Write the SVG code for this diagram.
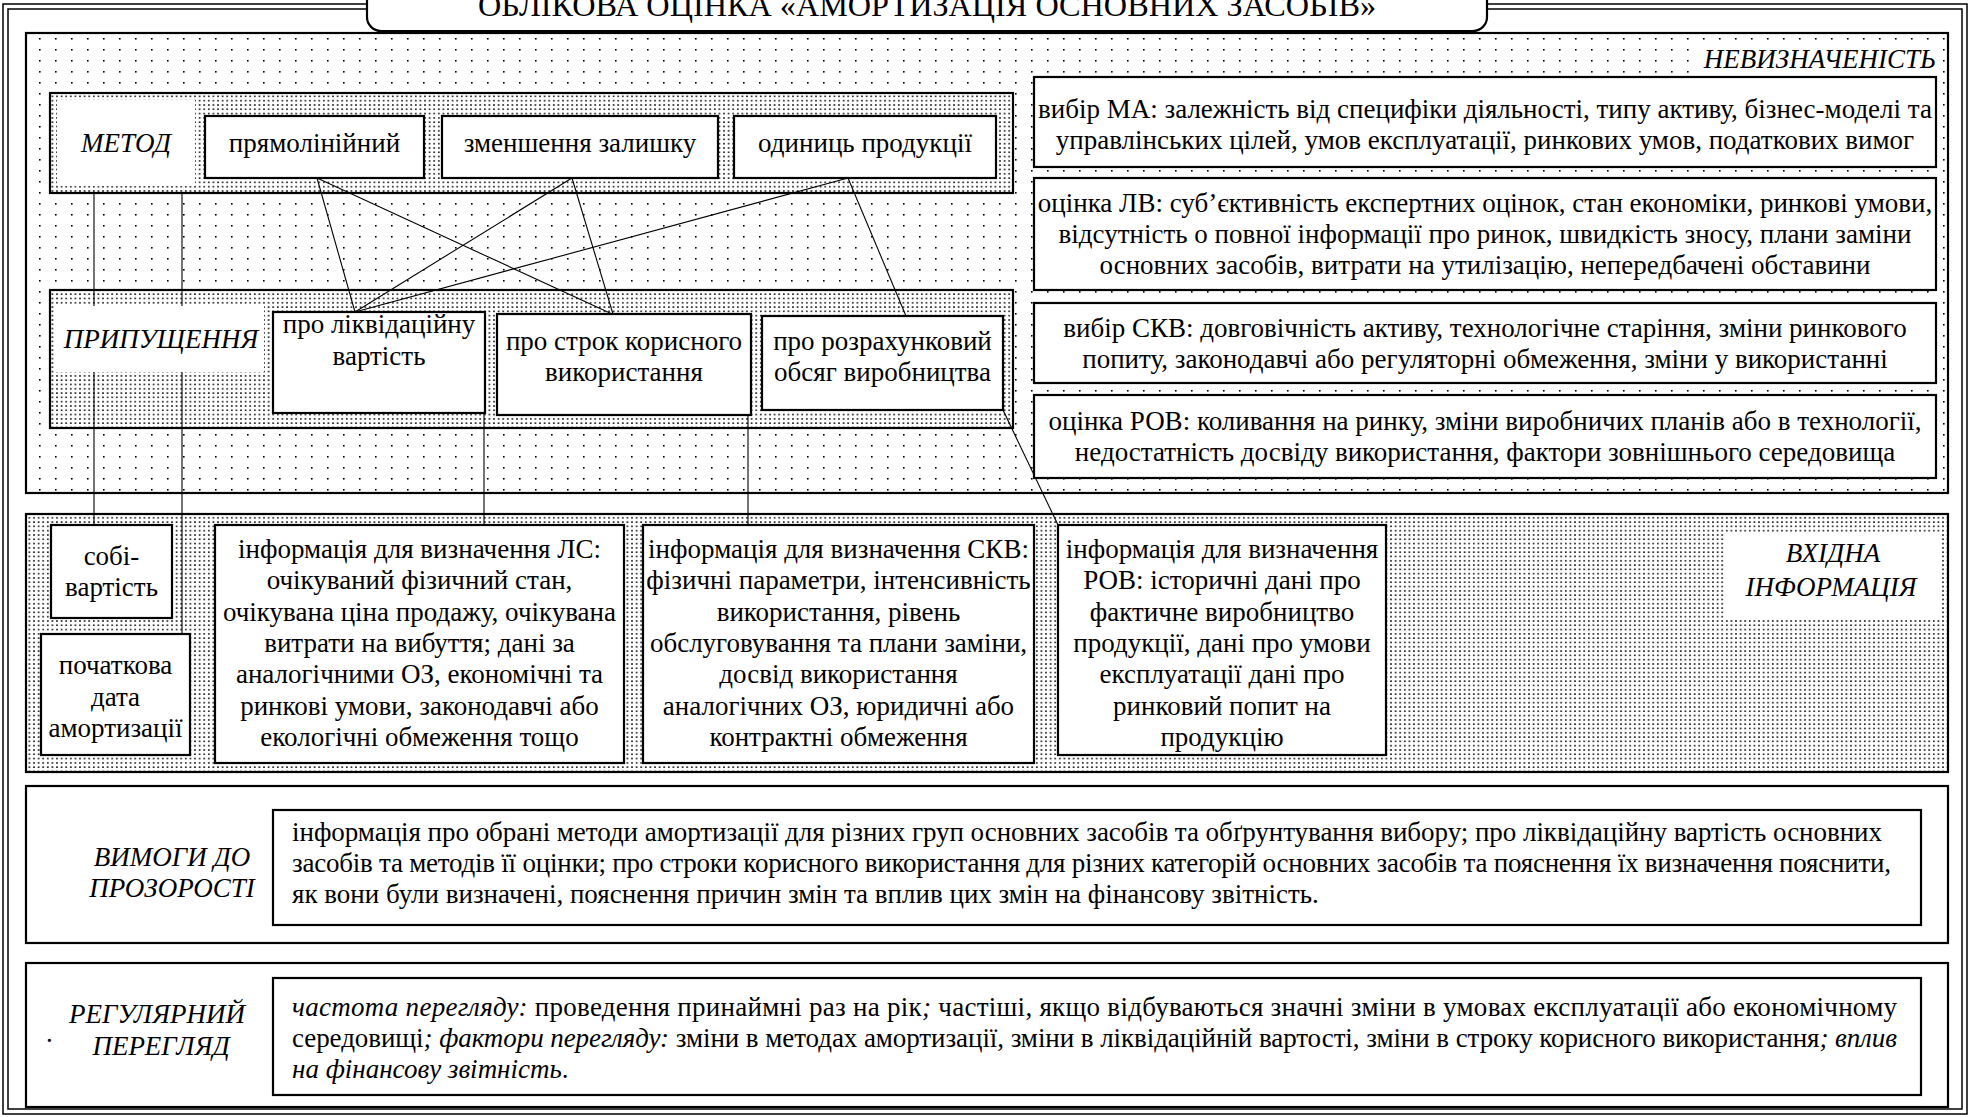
<svg xmlns="http://www.w3.org/2000/svg" width="1971" height="1117" viewBox="0 0 1971 1117">
<defs>
  <pattern id="dotsSparse" width="16" height="11" patternUnits="userSpaceOnUse">
    <rect width="16" height="11" fill="#fff"/>
    <rect x="7" y="5" width="1.6" height="1.6" fill="#000"/>
  </pattern>
  <pattern id="dotsDense" width="4.6" height="4.3" patternUnits="userSpaceOnUse">
    <rect width="4.6" height="4.3" fill="#fff"/>
    <rect x="1" y="1" width="1.6" height="1.6" fill="#111"/>
  </pattern>
  <clipPath id="clipRov"><rect x="1058" y="525" width="328" height="229"/></clipPath>
</defs>
<style>
  text { font-family: "Liberation Serif", "Times New Roman", serif; font-size: 27px; fill: #000; }
  .c { text-anchor: middle; }
  .it { font-style: italic; }
  .box { fill: #fff; stroke: #000; stroke-width: 2.2; }
  .cont { stroke: #000; stroke-width: 2.2; }
  .sparse { fill: url(#dotsSparse); }
  .dense { fill: url(#dotsDense); }
  .bg { fill: #fff; }
  .link { stroke: #000; stroke-width: 1.1; fill: none; }
  .frame { fill: none; stroke: #000; stroke-width: 1.5; }
  .title { font-size: 32px; }
</style>

<rect width="1971" height="1117" fill="#fff"/>

<!-- double outer frame -->
<g id="frame">
  <rect class="frame" x="3" y="4" width="1964" height="1110"/>
  <rect class="frame" x="8" y="9" width="1954" height="1100"/>
</g>

<!-- containers -->
<g id="uncertainty">
  <rect class="cont sparse" x="26" y="33" width="1922" height="460"/>
  <rect class="bg" x="1698" y="46" width="242" height="30"/>
  <text class="it" x="1936" y="68" text-anchor="end">НЕВИЗНАЧЕНІСТЬ</text>
</g>

<!-- heading plate -->
<g id="title">
  <rect x="367" y="-30" width="1120" height="61" rx="14" fill="#fff" stroke="#000" stroke-width="2.2"/>
  <text class="c title" x="927" y="16" textLength="898" lengthAdjust="spacingAndGlyphs">ОБЛІКОВА ОЦІНКА «АМОРТИЗАЦІЯ ОСНОВНИХ ЗАСОБІВ»</text>
</g>

<g id="method-row">
  <rect class="cont dense" x="50" y="93" width="963" height="100"/>
</g>
<g id="assumption-row">
  <rect class="cont dense" x="50" y="290" width="963" height="138"/>
</g>
<g id="input-info">
  <rect class="cont dense" x="26" y="514" width="1922" height="258"/>
  <rect class="bg" x="1724" y="533" width="216" height="85"/>
  <text class="c it" x="1833" y="562">ВХІДНА</text>
  <text class="c it" x="1831" y="596">ІНФОРМАЦІЯ</text>
</g>

<!-- connectors -->
<g id="connectors">
  <line class="link" x1="317" y1="178" x2="355" y2="312"/>
  <line class="link" x1="317" y1="178" x2="612" y2="314"/>
  <line class="link" x1="572" y1="178" x2="355" y2="312"/>
  <line class="link" x1="572" y1="178" x2="613" y2="314"/>
  <line class="link" x1="848" y1="178" x2="355" y2="312"/>
  <line class="link" x1="848" y1="178" x2="906" y2="316"/>
  <line class="link" x1="94" y1="193" x2="94" y2="525"/>
  <line class="link" x1="182" y1="193" x2="182" y2="634"/>
  <line class="link" x1="484" y1="413" x2="484" y2="525"/>
  <line class="link" x1="748" y1="415" x2="748" y2="525"/>
  <line class="link" x1="1003" y1="410" x2="1058" y2="525"/>
</g>

<!-- method row -->
<g id="method-label">
  <rect class="bg" x="57" y="100" width="138" height="86"/>
  <text class="c it" x="126" y="152">МЕТОД</text>
</g>
<g id="m-straight">
  <rect class="box" x="205" y="116" width="219" height="62"/>
  <text class="c" x="314.5" y="152">прямолінійний</text>
</g>
<g id="m-declining">
  <rect class="box" x="442" y="116" width="276" height="62"/>
  <text class="c" x="580" y="152">зменшення залишку</text>
</g>
<g id="m-units">
  <rect class="box" x="734" y="116" width="262" height="62"/>
  <text class="c" x="865" y="152">одиниць продукції</text>
</g>

<!-- assumption row -->
<g id="assumption-label">
  <rect class="bg" x="56" y="306" width="208" height="66"/>
  <text class="c it" x="161" y="348">ПРИПУЩЕННЯ</text>
</g>
<g id="a-residual">
  <rect class="box" x="273" y="312" width="212" height="101"/>
  <text class="c" x="379" y="333">про ліквідаційну</text>
  <text class="c" x="379" y="365">вартість</text>
</g>
<g id="a-life">
  <rect class="box" x="497" y="314" width="254" height="101"/>
  <text class="c" x="624" y="350">про строк корисного</text>
  <text class="c" x="624" y="381">використання</text>
</g>
<g id="a-volume">
  <rect class="box" x="762" y="316" width="241" height="94"/>
  <text class="c" x="882.5" y="350">про розрахунковий</text>
  <text class="c" x="882.5" y="381">обсяг виробництва</text>
</g>

<!-- uncertainty notes -->
<g id="u-method">
  <rect class="box" x="1034" y="77" width="902" height="90"/>
  <text class="c" x="1485" y="118">вибір МА: залежність від специфіки діяльності, типу активу, бізнес-моделі та</text>
  <text class="c" x="1485" y="149">управлінських цілей, умов експлуатації, ринкових умов, податкових вимог</text>
</g>
<g id="u-residual">
  <rect class="box" x="1034" y="178" width="902" height="112"/>
  <text class="c" x="1485" y="212">оцінка ЛВ: суб’єктивність експертних оцінок, стан економіки, ринкові умови,</text>
  <text class="c" x="1485" y="243">відсутність о повної інформації про ринок, швидкість зносу, плани заміни</text>
  <text class="c" x="1485" y="274">основних засобів, витрати на утилізацію, непередбачені обставини</text>
</g>
<g id="u-life">
  <rect class="box" x="1034" y="303" width="902" height="80"/>
  <text class="c" x="1485" y="337">вибір СКВ: довговічність активу, технологічне старіння, зміни ринкового</text>
  <text class="c" x="1485" y="368">попиту, законодавчі або регуляторні обмеження, зміни у використанні</text>
</g>
<g id="u-volume">
  <rect class="box" x="1034" y="395" width="902" height="83"/>
  <text class="c" x="1485" y="430">оцінка РОВ: коливання на ринку, зміни виробничих планів або в технології,</text>
  <text class="c" x="1485" y="461">недостатність досвіду використання, фактори зовнішнього середовища</text>
</g>

<!-- input information -->
<g id="i-cost">
  <rect class="box" x="51" y="525" width="121" height="93"/>
  <text class="c" x="111.5" y="565">собі-</text>
  <text class="c" x="111.5" y="596">вартість</text>
</g>
<g id="i-start">
  <rect class="box" x="41" y="634" width="149" height="121"/>
  <text class="c" x="115.5" y="674">початкова</text>
  <text class="c" x="115.5" y="706">дата</text>
  <text class="c" x="115.5" y="737">амортизації</text>
</g>
<g id="i-residual">
  <rect class="box" x="215" y="525" width="409" height="238"/>
  <text class="c" x="419.5" y="558">інформація для визначення ЛС:</text>
  <text class="c" x="419.5" y="589">очікуваний фізичний стан,</text>
  <text class="c" x="419.5" y="620.5">очікувана ціна продажу, очікувана</text>
  <text class="c" x="419.5" y="652">витрати на вибуття; дані за</text>
  <text class="c" x="419.5" y="683">аналогічними ОЗ, економічні та</text>
  <text class="c" x="419.5" y="714.5">ринкові умови, законодавчі або</text>
  <text class="c" x="419.5" y="746">екологічні обмеження тощо</text>
</g>
<g id="i-life">
  <rect class="box" x="643" y="525" width="391" height="238"/>
  <text class="c" x="838.5" y="558">інформація для визначення СКВ:</text>
  <text class="c" x="838.5" y="589">фізичні параметри, інтенсивність</text>
  <text class="c" x="838.5" y="620.5">використання, рівень</text>
  <text class="c" x="838.5" y="652">обслуговування та плани заміни,</text>
  <text class="c" x="838.5" y="683">досвід використання</text>
  <text class="c" x="838.5" y="714.5">аналогічних ОЗ, юридичні або</text>
  <text class="c" x="838.5" y="746">контрактні обмеження</text>
</g>
<g id="i-volume">
  <rect class="box" x="1058" y="525" width="328" height="230"/>
  <g clip-path="url(#clipRov)">
    <text class="c" x="1222" y="558">інформація для визначення</text>
    <text class="c" x="1222" y="589">РОВ: історичні дані про</text>
    <text class="c" x="1222" y="620.5">фактичне виробництво</text>
    <text class="c" x="1222" y="652">продукції, дані про умови</text>
    <text class="c" x="1222" y="683">експлуатації  дані про</text>
    <text class="c" x="1222" y="714.5">ринковий попит на</text>
    <text class="c" x="1222" y="746">продукцію</text>
  </g>
</g>

<!-- disclosure requirements -->
<g id="disclosure">
  <rect class="box" x="26" y="786" width="1922" height="157"/>
  <text class="c it" x="172" y="866">ВИМОГИ ДО</text>
  <text class="c it" x="172" y="897">ПРОЗОРОСТІ</text>
  <rect class="box" x="273" y="810" width="1648" height="115"/>
  <text x="292" y="841" textLength="1590" lengthAdjust="spacing">інформація про обрані методи амортизації для різних груп основних засобів та обґрунтування вибору; про ліквідаційну вартість основних</text>
  <text x="292" y="872" textLength="1599" lengthAdjust="spacing">засобів та методів її оцінки; про строки корисного використання для різних категорій основних засобів та пояснення їх визначення пояснити,</text>
  <text x="292" y="903">як вони були визначені, пояснення причин змін та вплив цих змін на фінансову звітність.</text>
</g>

<!-- regular review -->
<g id="review">
  <rect class="box" x="26" y="963" width="1922" height="144"/>
  <text class="c it" x="157" y="1023">РЕГУЛЯРНИЙ</text>
  <text class="c it" x="161" y="1055">ПЕРЕГЛЯД</text>
  <text x="46" y="1042">.</text>
  <rect class="box" x="273" y="978" width="1648" height="117"/>
  <text x="292" y="1016" textLength="1605" lengthAdjust="spacing"><tspan class="it">частота перегляду:</tspan> проведення принаймні раз на рік<tspan class="it">;</tspan> частіші, якщо відбуваються значні зміни в умовах експлуатації або економічному</text>
  <text x="292" y="1047" textLength="1605" lengthAdjust="spacing">середовищі<tspan class="it">; фактори перегляду:</tspan> зміни в методах амортизації, зміни в ліквідаційній вартості, зміни в строку корисного використання<tspan class="it">; вплив</tspan></text>
  <text x="292" y="1078"><tspan class="it">на фінансову звітність</tspan>.</text>
</g>
</svg>
